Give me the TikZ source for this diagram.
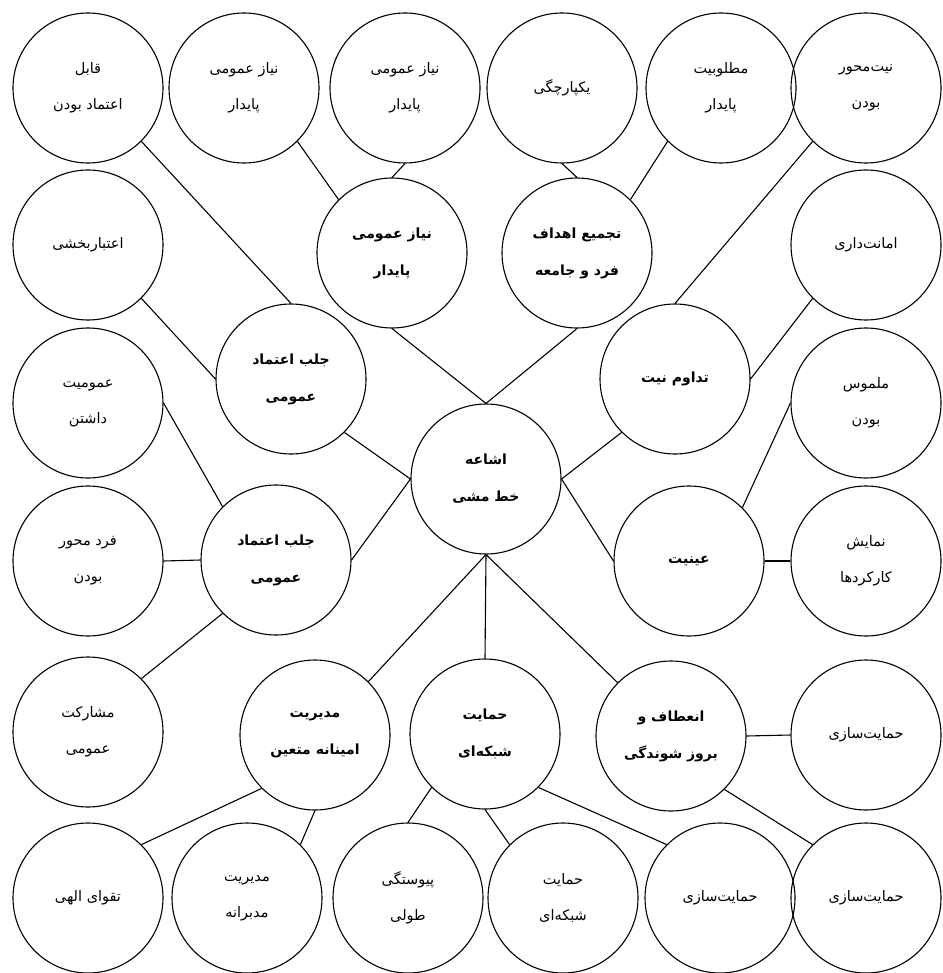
\documentclass[tikz,border=0pt]{standalone}
\usepackage{fontspec}
\TeXXeTstate=1
\newfontfamily\arabicfont[Script=Arabic]{DejaVu Sans}
\newcommand\regfont{\arabicfont\fontsize{14.5pt}{36pt}\selectfont}
\newcommand\boldfont{\arabicfont\bfseries\fontsize{14pt}{37pt}\selectfont}
\newcommand\rl[1]{\beginR #1\endR}
\tikzset{
  cnode/.style={circle, draw, line width=1.1pt, minimum size=150pt, inner sep=0pt, align=center, font=\regfont},
  bnode/.style={cnode, font=\boldfont},
  link/.style={line width=1.1pt}
}
\begin{document}
\begin{tikzpicture}[x=1pt,y=-1pt]
\useasboundingbox (0,0) rectangle (942,973);
% top row
\node[cnode] (t1) at (88,88) {\rl{قابل}\\\rl{اعتماد بودن}};
\node[cnode] (t2) at (244,88) {\rl{نیاز عمومی}\\\rl{پایدار}};
\node[cnode] (t3) at (405,88) {\rl{نیاز عمومی}\\\rl{پایدار}};
\node[cnode] (t4) at (562,88) {\rl{یکپارچگی}};
\node[cnode] (t5) at (721,88) {\rl{مطلوبیت}\\\rl{پایدار}};
\node[cnode] (t6) at (866,88) {\rl{نیت‌محور}\\\rl{بودن}};
% row 2
\node[cnode] (etebar) at (88,245) {\rl{اعتباربخشی}};
\node[bnode] (niaz) at (392,253) {\rl{نیاز عمومی}\\\rl{پایدار}};
\node[bnode] (tajmi) at (577,253) {\rl{تجمیع اهداف}\\\rl{فرد و جامعه}};
\node[cnode] (amanat) at (866,245) {\rl{امانت‌داری}};
% row 3
\node[bnode] (jalb1) at (291,379) {\rl{جلب اعتماد}\\\rl{عمومی}};
\node[bnode] (tadavom) at (675,379) {\rl{تداوم نیت}};
\node[cnode] (omoom) at (88,403) {\rl{عمومیت}\\\rl{داشتن}};
\node[cnode] (malmoos) at (866,403) {\rl{ملموس}\\\rl{بودن}};
% center
\node[bnode] (center) at (486,479) {\rl{اشاعه}\\\rl{خط مشی}};
% row 4
\node[cnode] (fard) at (88,561) {\rl{فرد محور}\\\rl{بودن}};
\node[bnode] (jalb2) at (276,560) {\rl{جلب اعتماد}\\\rl{عمومی}};
\node[bnode] (eyniat) at (689,561) {\rl{عینیت}};
\node[cnode] (namayesh) at (866,561) {\rl{نمایش}\\\rl{کارکردها}};
% row 5
\node[cnode] (mosharekat) at (88,732) {\rl{مشارکت}\\\rl{عمومی}};
\node[bnode] (modiriat) at (315,735) {\rl{مدیریت}\\\rl{امینانه متعین}};
\node[bnode] (hemayat) at (485,734) {\rl{حمایت}\\\rl{شبکه‌ای}};
\node[bnode] (enetaf) at (671,736) {\rl{انعطاف و}\\\rl{بروز شوندگی}};
\node[cnode] (hs1) at (866,735) {\rl{حمایت‌سازی}};
% bottom row
\node[cnode] (taghva) at (88,898) {\rl{تقوای الهی}};
\node[cnode] (modabbar) at (247,898) {\rl{مدیریت}\\\rl{مدبرانه}};
\node[cnode] (peyvast) at (408,898) {\rl{پیوستگی}\\\rl{طولی}};
\node[cnode] (hem2) at (563,898) {\rl{حمایت}\\\rl{شبکه‌ای}};
\node[cnode] (hs2) at (720,898) {\rl{حمایت‌سازی}};
\node[cnode] (hs3) at (866,898) {\rl{حمایت‌سازی}};
% links
\draw[link] (t1.south east) -- (jalb1.north);
\draw[link] (t2.south east) -- (niaz.north west);
\draw[link] (t3.south) -- (niaz.north);
\draw[link] (t4.south) -- (tajmi.north);
\draw[link] (t5.south west) -- (tajmi.north east);
\draw[link] (t6.south west) -- (tadavom.north);
\draw[link] (etebar.south east) -- (jalb1.west);
\draw[link] (amanat.south west) -- (tadavom.east);
\draw[link] (niaz.south) -- (center.north);
\draw[link] (tajmi.south) -- (center.north);
\draw[link] (jalb1.south east) -- (center.west);
\draw[link] (tadavom.south west) -- (center.east);
\draw[link] (omoom.east) -- (jalb2.north west);
\draw[link] (malmoos.west) -- (eyniat.north east);
\draw[link] (fard.east) -- (jalb2.west);
\draw[link] (jalb2.east) -- (center.west);
\draw[link] (center.east) -- (eyniat.west);
\draw[link] (eyniat.east) -- (namayesh.west);
\draw[link] (jalb2.south west) -- (mosharekat.north east);
\draw[link] (center.south) -- (modiriat.north east);
\draw[link] (center.south) -- (hemayat.north);
\draw[link] (center.south) -- (enetaf.north west);
\draw[link] (enetaf.east) -- (hs1.west);
\draw[link] (modiriat.south west) -- (taghva.north east);
\draw[link] (modiriat.south) -- (modabbar.north east);
\draw[link] (hemayat.south west) -- (peyvast.north);
\draw[link] (hemayat.south) -- (hem2.north west);
\draw[link] (hemayat.south east) -- (hs2.north west);
\draw[link] (enetaf.south east) -- (hs3.north west);
\end{tikzpicture}
\end{document}
